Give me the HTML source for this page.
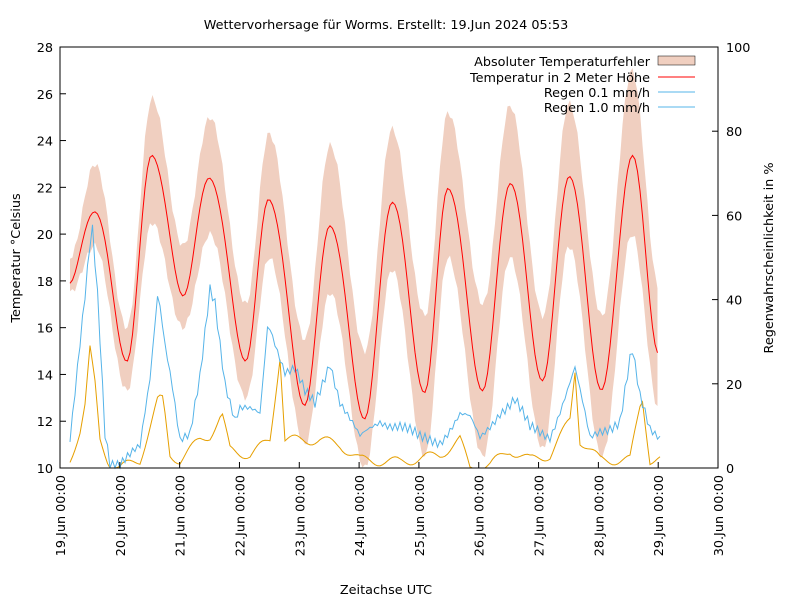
<!DOCTYPE html>
<html><head><meta charset="utf-8"><style>
body{margin:0;background:#fff;}
text{font-family:"DejaVu Sans","Liberation Sans",sans-serif;font-size:12.8px;fill:#000;}
</style></head><body>
<svg id="s" width="800" height="600" xmlns="http://www.w3.org/2000/svg">
<rect width="800" height="600" fill="#fff"/>
<text x="386" y="29" text-anchor="middle">Wettervorhersage für Worms. Erstellt: 19.Jun 2024 05:53</text>
<g id="band"></g>
<g id="lines"></g>
<rect x="60" y="47" width="658" height="421" fill="none" stroke="#000" stroke-width="1"/>
<g id="ticks"></g>
<text transform="translate(20,258) rotate(-90)" text-anchor="middle">Temperatur °Celsius</text>
<text transform="translate(773,258) rotate(-90)" text-anchor="middle">Regenwahrscheinlichkeit in %</text>
<text x="386" y="594" text-anchor="middle">Zeitachse UTC</text>
<text x="650" y="66" text-anchor="end">Absoluter Temperaturfehler</text>
<rect x="658" y="56" width="37" height="9" fill="#f0cfc0" stroke="#000" stroke-width="0.5"/>
<text x="650" y="82" text-anchor="end">Temperatur in 2 Meter Höhe</text>
<line x1="658" y1="77" x2="695" y2="77" stroke="#f00"/>
<text x="650" y="97" text-anchor="end">Regen 0.1 mm/h</text>
<line x1="658" y1="92" x2="695" y2="92" stroke="#56b4e9"/>
<text x="650" y="112" text-anchor="end">Regen 1.0 mm/h</text>
<line x1="658" y1="107" x2="695" y2="107" stroke="#56b4e9"/>
</svg>
<script>
const NS="http://www.w3.org/2000/svg";
function el(p,t,a){const e=document.createElementNS(NS,t);for(const k in a)e.setAttribute(k,a[k]);p.appendChild(e);return e;}
const tk=document.getElementById('ticks');
for(let v=10;v<=28;v+=2){const y=468-(v-10)*421/18;
el(tk,'line',{x1:60,y1:y,x2:66,y2:y,stroke:'#000'});
const t=el(tk,'text',{x:53,y:y+5,'text-anchor':'end'});t.textContent=v;}
for(let v=0;v<=100;v+=20){const y=468-v*4.21;
el(tk,'line',{x1:712,y1:y,x2:718,y2:y,stroke:'#000'});
const t=el(tk,'text',{x:726,y:y+5});t.textContent=v;}
for(let d=0;d<=11;d++){const x=60+d*59.82;
el(tk,'line',{x1:x,y1:468,x2:x,y2:462,stroke:'#000'});
const t=el(tk,'text',{transform:`translate(${x+5},475) rotate(-90)`,'text-anchor':'end'});
t.textContent=(19+d)+'.Jun 00:00';}
function interp(pts,x){for(let i=0;i<pts.length-1;i++){const a=pts[i],b=pts[i+1];if(x>=a[0]&&x<=b[0]){const f=(x-a[0])/(b[0]-a[0]);const c=(1-Math.cos(Math.PI*f))/2;return a[1]+(b[1]-a[1])*c;}}return pts[pts.length-1][1];}
function lin(pts,x){for(let i=0;i<pts.length-1;i++){const a=pts[i],b=pts[i+1];if(x>=a[0]&&x<=b[0]){const f=(x-a[0])/(b[0]-a[0]);return a[1]+(b[1]-a[1])*f;}}return pts[pts.length-1][1];}
const T=[[70,18.0],[95,21.1],[127,14.7],[152,23.5],[183,17.5],[210,22.5],[246,14.7],[269,21.6],[305,12.8],[330,20.5],[365,12.2],[392,21.5],[425,13.3],[448,22.1],[483,13.4],[510,22.3],[543,13.8],[569,22.6],[602,13.4],[632,23.4],[659,15.0]];
const U=[[70,19],[95,23],[127,16],[152,25.8],[183,19.5],[210,25],[246,17],[269,24.3],[305,15.5],[330,23.8],[365,15],[392,24.5],[425,16.5],[448,25.2],[483,17],[510,25.5],[543,16.5],[569,25.6],[602,16.5],[632,27],[659,17.7]];
const L=[[70,17.5],[95,19.5],[127,13.3],[152,20.5],[183,16],[210,20],[246,13],[269,19],[305,11],[330,17.5],[365,10],[392,18.5],[425,10.5],[448,19],[483,10.5],[510,19],[543,10.8],[569,19.5],[602,10.5],[632,20],[659,12.5]];
const ty=v=>468-(v-10)*421/18;
let up=[],lo=[],tp=[];
for(let x=70;x<=659;x+=2.5){const n=Math.sin(x*1.7)*0.15;
up.push(x+','+ty(interp(U,x)+n));lo.unshift(x+','+ty(Math.max(10,interp(L,x)-n)));tp.push(x+','+ty(interp(T,x)+Math.sin(x*2.3)*0.15));}
el(document.getElementById('band'),'polygon',{points:up.concat(lo).join(' '),fill:'#f0cfc0'});
const g=document.getElementById('lines');
const B=[[70,440],[75,395],[85,300],[92,225],[98,300],[105,430],[110,460],[120,462],[140,450],[150,380],[158,288],[165,340],[172,380],[180,440],[190,438],[200,380],[210,288],[215,300],[225,380],[235,420],[240,410],[260,415],[268,320],[275,340],[285,370],[295,370],[305,395],[315,405],[330,360],[340,400],[350,420],[360,440],[370,430],[380,420],[400,425],[420,440],[440,440],[460,415],[470,420],[480,440],[500,410],[515,400],[530,430],[550,435],[575,370],[590,440],[600,430],[620,420],[632,350],[640,400],[650,430],[660,435]];
const O=[[70,460],[80,430],[85,405],[90,350],[95,385],[100,440],[110,465],[120,468],[140,460],[158,400],[163,400],[170,455],[180,460],[200,440],[210,435],[222,415],[230,450],[250,455],[270,440],[280,355],[285,440],[300,440],[320,440],[340,445],[360,460],[400,462],[440,455],[460,440],[470,468],[490,465],[510,450],[530,460],[550,455],[570,420],[575,370],[580,440],[600,460],[630,460],[642,395],[650,460],[660,460]];
let bp=[],op=[];
for(let x=70;x<=660;x+=2.5){let b=lin(B,x)+Math.sin(x*3.1)*9*Math.sin(x*0.7);bp.push(x+','+Math.min(468,b));
let o=lin(O,x)+Math.sin(x*2.7)*5;op.push(x+','+Math.min(468,Math.max(47,o)));}
el(g,'polyline',{points:op.join(' '),fill:'none',stroke:'#e69f00','stroke-width':1});
el(g,'polyline',{points:bp.join(' '),fill:'none',stroke:'#56b4e9','stroke-width':1});
el(g,'polyline',{points:tp.join(' '),fill:'none',stroke:'#f00','stroke-width':1});
</script>
</body></html>
